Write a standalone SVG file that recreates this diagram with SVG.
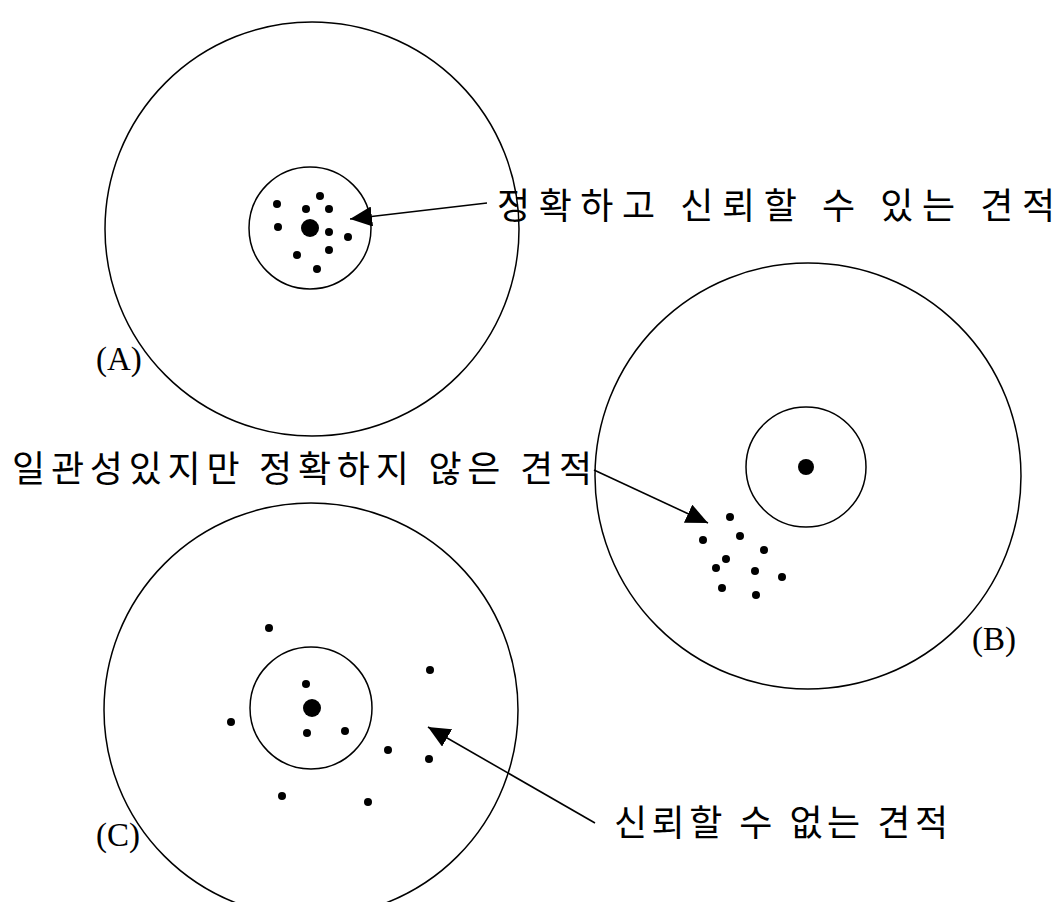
<svg xmlns="http://www.w3.org/2000/svg" width="1061" height="902" viewBox="0 0 1061 902">
<style>
.ring{fill:none;stroke:#000;stroke-width:1.5}
.dot{fill:#000}
.kr{font-family:"Noto Sans CJK KR","Noto Sans CJK SC",sans-serif;font-size:36px;fill:#000}
.lbl{font-family:"Liberation Serif",serif;font-size:33px;fill:#000}
.conn{stroke:#000;stroke-width:1.6;fill:none}
</style>
<defs>
<marker id="ah" markerUnits="userSpaceOnUse" markerWidth="24" markerHeight="20" refX="22" refY="10" orient="auto">
<path d="M0,0 L22,10 L0,20 Z" fill="#000"/>
</marker>
</defs>
<rect width="1061" height="902" fill="#fff"/>
<g id="targetA">
<circle class="ring" cx="312" cy="229" r="207"/>
<circle class="ring" cx="310" cy="228" r="61"/>
<circle class="dot" cx="310" cy="228" r="9"/>
<circle class="dot" cx="320" cy="196" r="4"/>
<circle class="dot" cx="277" cy="204" r="4"/>
<circle class="dot" cx="306" cy="209" r="4"/>
<circle class="dot" cx="329" cy="209" r="4"/>
<circle class="dot" cx="278" cy="227" r="4"/>
<circle class="dot" cx="329" cy="232" r="4"/>
<circle class="dot" cx="348" cy="237" r="4"/>
<circle class="dot" cx="329" cy="250" r="4"/>
<circle class="dot" cx="297" cy="255" r="4"/>
<circle class="dot" cx="317" cy="269" r="4"/>
<text class="lbl" x="96" y="370">(A)</text>
</g>
<g id="targetB">
<circle class="ring" cx="808" cy="476" r="213"/>
<circle class="ring" cx="806" cy="467" r="60"/>
<circle class="dot" cx="806" cy="467" r="8"/>
<circle class="dot" cx="730" cy="517" r="4"/>
<circle class="dot" cx="703" cy="540" r="4"/>
<circle class="dot" cx="740" cy="536" r="4"/>
<circle class="dot" cx="764" cy="550" r="4"/>
<circle class="dot" cx="726" cy="559" r="4"/>
<circle class="dot" cx="716" cy="568" r="4"/>
<circle class="dot" cx="755" cy="571" r="4"/>
<circle class="dot" cx="782" cy="577" r="4"/>
<circle class="dot" cx="722" cy="588" r="4"/>
<circle class="dot" cx="756" cy="595" r="4"/>
<text class="lbl" x="972" y="650">(B)</text>
</g>
<g id="targetC">
<circle class="ring" cx="311" cy="710" r="207"/>
<circle class="ring" cx="311" cy="708" r="61"/>
<circle class="dot" cx="312" cy="708" r="9"/>
<circle class="dot" cx="269" cy="628" r="4"/>
<circle class="dot" cx="430" cy="670" r="4"/>
<circle class="dot" cx="306" cy="684" r="4"/>
<circle class="dot" cx="231" cy="722" r="4"/>
<circle class="dot" cx="307" cy="733" r="4"/>
<circle class="dot" cx="345" cy="731" r="4"/>
<circle class="dot" cx="388" cy="750" r="4"/>
<circle class="dot" cx="429" cy="759" r="4"/>
<circle class="dot" cx="282" cy="796" r="4"/>
<circle class="dot" cx="368" cy="802" r="4"/>
<text class="lbl" x="96" y="846">(C)</text>
</g>
<g id="labels">
<text id="labelA" class="kr" x="497" y="219" textLength="558" lengthAdjust="spacing">정확하고 신뢰할 수 있는 견적</text>
<text id="labelB" class="kr" x="12" y="482" textLength="580" lengthAdjust="spacing">일관성있지만 정확하지 않은 견적</text>
<text id="labelC" class="kr" x="614" y="836" textLength="334" lengthAdjust="spacing">신뢰할 수 없는 견적</text>
</g>
<g id="connectors">
<line class="conn" x1="487" y1="203" x2="350" y2="219" marker-end="url(#ah)"/>
<line class="conn" x1="594" y1="470" x2="708" y2="523" marker-end="url(#ah)"/>
<line class="conn" x1="595" y1="823" x2="428" y2="727" marker-end="url(#ah)"/>
</g>
</svg>
